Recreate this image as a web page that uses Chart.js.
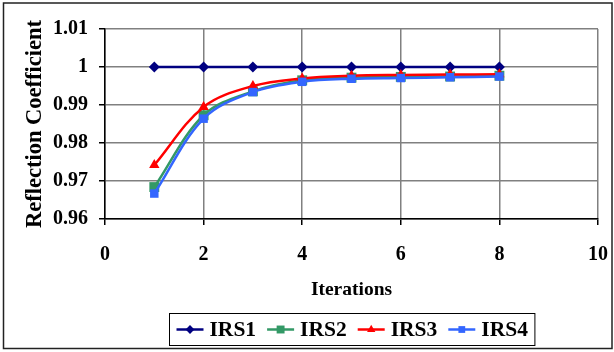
<!DOCTYPE html>
<html>
<head>
<meta charset="utf-8">
<script src="https://cdn.jsdelivr.net/npm/chart.js@4/dist/chart.umd.min.js"></script>
<style>
  html, body { margin: 0; padding: 0; background: #fff; }
  canvas { display: block; }
</style>
</head>
<body>
<canvas id="c" width="614" height="352"></canvas>
<script>
// Reflection coefficient per iteration for each IRS configuration
const iterations = [1, 2, 3, 4, 5, 6, 7, 8];
const irs1 = [1, 1, 1, 1, 1, 1, 1, 1];
const irs2 = [0.9684, 0.9873, 0.9936, 0.9965, 0.9972, 0.9974, 0.9975, 0.9977];
const irs3 = [0.9742, 0.9895, 0.9950, 0.9970, 0.9977, 0.9979, 0.9980, 0.9981];
const irs4 = [0.9667, 0.9864, 0.9934, 0.9961, 0.9969, 0.9971, 0.9973, 0.9975];
const seriesNames = ['IRS1', 'IRS2', 'IRS3', 'IRS4'];

const xTicks = [0, 2, 4, 6, 8, 10];
const xTickLabels = ['0', '2', '4', '6', '8', '10'];
const yTicks = [0.96, 0.97, 0.98, 0.99, 1.0, 1.01];
const yTickLabels = ['0.96', '0.97', '0.98', '0.99', '1', '1.01'];

const SERIF = '"Liberation Serif", "Times New Roman", serif';

function points(values) {
  return values.map((v, i) => ({ x: iterations[i], y: v }));
}

function series(label, values, color, style, radius, order) {
  return {
    label,
    data: points(values),
    borderColor: color,
    backgroundColor: color,
    pointBackgroundColor: color,
    pointBorderColor: color,
    pointStyle: style,
    pointRadius: radius,
    pointBorderWidth: 0,
    borderWidth: 2.5,
    tension: 0.35,
    order
  };
}

// Legend in a framed box below the plot, line + marker per series
const framedLegend = {
  id: 'framedLegend',
  afterDraw(chart) {
    const ctx = chart.ctx;
    const area = chart.chartArea;
    ctx.save();
    ctx.font = 'bold 21.5px ' + SERIF;
    const lineLen = 27, textGap = 6, itemGap = 11, padX = 7;
    const sets = chart.data.datasets;
    const widths = sets.map(d => ctx.measureText(d.label).width);
    let total = padX * 2;
    widths.forEach((w, i) => { total += lineLen + textGap + w + (i < widths.length - 1 ? itemGap : 0); });
    const cx = (area.left + area.right) / 2;
    const left = Math.round(cx - total / 2) + 0.5;
    const top = 313.5;
    const h = 32;
    ctx.strokeStyle = '#000';
    ctx.lineWidth = 1;
    ctx.strokeRect(left, top, total, h);
    const cy = top + h / 2;
    let x = left + padX;
    sets.forEach((d, i) => {
      ctx.strokeStyle = d.borderColor;
      ctx.lineWidth = 2.5;
      ctx.beginPath();
      ctx.moveTo(x, cy);
      ctx.lineTo(x + lineLen, cy);
      ctx.stroke();
      ctx.fillStyle = d.pointBackgroundColor;
      Chart.helpers.drawPoint(ctx, {
        pointStyle: d.pointStyle,
        radius: d.pointRadius * 0.8,
        rotation: 0,
        borderWidth: 0
      }, x + lineLen / 2, cy);
      ctx.fillStyle = '#000';
      ctx.textBaseline = 'middle';
      ctx.textAlign = 'left';
      ctx.fillText(d.label, x + lineLen + textGap, cy + 1);
      x += lineLen + textGap + widths[i] + itemGap;
    });
    ctx.restore();
  }
};

// Frame around the whole chart
const outerFrame = {
  id: 'outerFrame',
  afterDraw(chart) {
    const ctx = chart.ctx;
    ctx.save();
    ctx.strokeStyle = '#222';
    ctx.lineWidth = 1.5;
    ctx.strokeRect(3.5, 3, 608.5, 345.5);
    ctx.restore();
  }
};

new Chart(document.getElementById('c'), {
  type: 'line',
  data: {
    datasets: [
      series(seriesNames[0], irs1, '#000080', 'rectRot', 5.5, 4),
      series(seriesNames[1], irs2, '#339966', 'rect', 7, 3),
      series(seriesNames[2], irs3, '#FF0000', 'triangle', 6, 2),
      series(seriesNames[3], irs4, '#3366FF', 'rect', 6, 1)
    ]
  },
  options: {
    responsive: false,
    animation: false,
    layout: { padding: { left: 20, right: 16, top: 29, bottom: 46 } },
    plugins: { legend: { display: false }, tooltip: { enabled: false } },
    scales: {
      x: {
        type: 'linear',
        min: 0,
        max: 10,
        afterBuildTicks: s => { s.ticks = xTicks.map(v => ({ value: v })); },
        afterFit: s => { s.height = 87; s.paddingLeft = 0; s.paddingRight = 0; },
        ticks: {
          callback: (v, i) => xTickLabels[i],
          font: { family: SERIF, size: 20, weight: 'bold' },
          color: '#000',
          padding: 18,
          maxRotation: 0,
          autoSkip: false
        },
        grid: { color: '#808080', lineWidth: 1.5, tickLength: 6, tickColor: '#000' },
        border: { color: '#000', width: 1.5 },
        title: {
          display: true,
          text: 'Iterations',
          color: '#000',
          font: { family: SERIF, size: 19.5, weight: 'bold' },
          padding: { top: 4, bottom: 4 }
        }
      },
      y: {
        min: 0.96,
        max: 1.01,
        afterBuildTicks: s => { s.ticks = yTicks.map(v => ({ value: v })); },
        afterFit: s => { s.width = 85; s.paddingTop = 0; s.paddingBottom = 0; },
        ticks: {
          callback: (v, i) => yTickLabels[i],
          font: { family: SERIF, size: 20, weight: 'bold' },
          color: '#000',
          padding: 11,
          autoSkip: false
        },
        grid: { color: '#808080', lineWidth: 1.5, tickLength: 6, tickColor: '#000' },
        border: { color: '#000', width: 1.5 },
        title: {
          display: true,
          text: 'Reflection Coefficient',
          color: '#000',
          font: { family: SERIF, size: 22.5, weight: 'bold' },
          padding: { top: 2, bottom: 2 }
        }
      }
    }
  },
  plugins: [outerFrame, framedLegend]
});
</script>
</body>
</html>
